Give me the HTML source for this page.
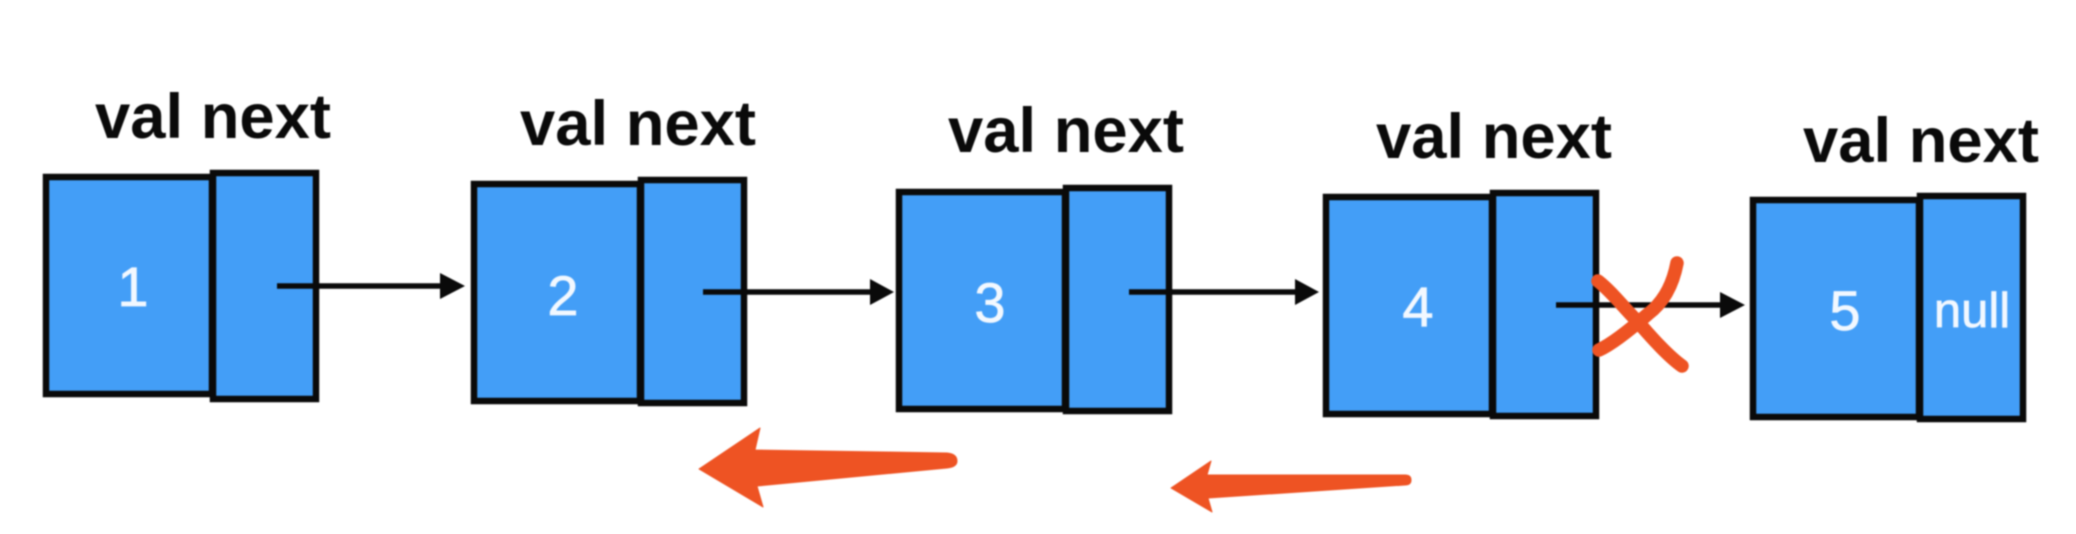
<!DOCTYPE html>
<html lang="en">
<head>
<meta charset="utf-8">
<title>Linked list reversal diagram</title>
<style>
html,body{margin:0;padding:0;background:#fff;width:2076px;height:534px;overflow:hidden}
svg{display:block;filter:blur(0.8px)}
.box{fill:#439ef7;stroke:#0a0a0a;stroke-width:6.5}
.hdr{font:bold 63px "Liberation Sans",sans-serif;fill:#0a0a0a}
.val{font:56px "Liberation Sans",sans-serif;fill:#f2f8ff;text-anchor:middle;stroke:#f2f8ff;stroke-width:.7}
.lnk{stroke:#0a0a0a;stroke-width:5.5;fill:none}
.head{fill:#0a0a0a}
.red{fill:#ee5323}
.cross{fill:none;stroke:#ee5323;stroke-width:13.5;stroke-linecap:round}
</style>
</head>
<body>
<svg width="2076" height="534" viewBox="0 0 2076 534" xmlns="http://www.w3.org/2000/svg">

<g>
<text class="hdr" x="95" y="138" textLength="236" lengthAdjust="spacingAndGlyphs">val next</text>
<rect class="box" x="46" y="177" width="166" height="217"/>
<rect class="box" x="213" y="173" width="103" height="226"/>
<text class="val" x="133" y="306">1</text>
</g>

<g>
<text class="hdr" x="520" y="145" textLength="236" lengthAdjust="spacingAndGlyphs">val next</text>
<rect class="box" x="474" y="184" width="166" height="217"/>
<rect class="box" x="641" y="180" width="103" height="223"/>
<text class="val" x="563" y="315">2</text>
</g>

<g>
<text class="hdr" x="948" y="152" textLength="236" lengthAdjust="spacingAndGlyphs">val next</text>
<rect class="box" x="899" y="192" width="166" height="217"/>
<rect class="box" x="1066" y="188" width="103" height="223"/>
<text class="val" x="990" y="322">3</text>
</g>

<g>
<text class="hdr" x="1376" y="158" textLength="236" lengthAdjust="spacingAndGlyphs">val next</text>
<rect class="box" x="1326" y="197" width="166" height="217"/>
<rect class="box" x="1493" y="193" width="103" height="223"/>
<text class="val" x="1418" y="326">4</text>
</g>

<g>
<text class="hdr" x="1803" y="162" textLength="236" lengthAdjust="spacingAndGlyphs">val next</text>
<rect class="box" x="1753" y="200" width="166" height="217"/>
<rect class="box" x="1920" y="196" width="103" height="223"/>
<text class="val" x="1845" y="330">5</text>
<text class="val" x="1972" y="327" style="font-size:49px">null</text>
</g>

<g>
<line class="lnk" x1="277" y1="286" x2="445" y2="286"/>
<polygon class="head" points="440,273 465,286 440,299"/>
</g>
<g>
<line class="lnk" x1="703" y1="292" x2="875" y2="292"/>
<polygon class="head" points="870,279 894,292 870,305"/>
</g>
<g>
<line class="lnk" x1="1129" y1="292" x2="1300" y2="292"/>
<polygon class="head" points="1295,279 1319,292 1295,305"/>
</g>
<g>
<line class="lnk" x1="1556" y1="305" x2="1725" y2="305"/>
<polygon class="head" points="1720,292 1745,305 1720,318"/>
</g>

<g>
<path class="cross" d="M1598,281 C1612,292 1624,308 1638,322 C1652,338 1668,356 1682,366"/>
<path class="cross" d="M1677,263 C1673,284 1664,302 1648,314 C1632,328 1612,344 1599,350"/>
</g>

<path class="red" d="M699,469 L760,428 L755,450 L947,453 Q957,454 957,461 Q957,467 947,468 L757,486 L763,507 Z" stroke="#ee5323" stroke-width="1" stroke-linejoin="round"/>
<path class="red" d="M1171,488 L1211,461 L1207,475 L1405,475 Q1411,475 1411,480 Q1411,485 1405,485 L1208,498 L1212,512 Z" stroke="#ee5323" stroke-width="1" stroke-linejoin="round"/>
</svg>
</body>
</html>
